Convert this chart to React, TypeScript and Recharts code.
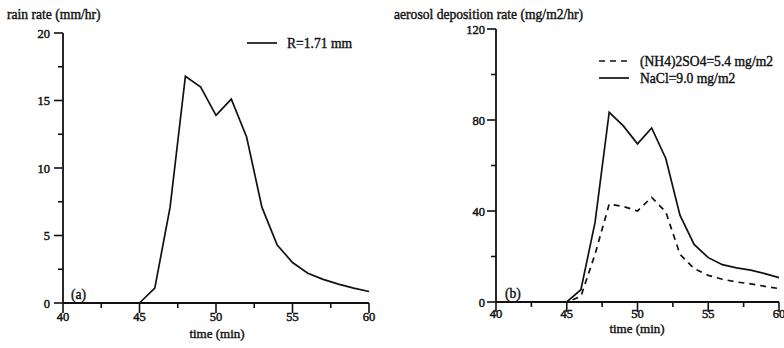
import React from 'react';
import { LineChart, Line, XAxis, YAxis } from 'recharts';

const times = [40, 41, 42, 43, 44, 45, 46, 47, 48, 49, 50, 51, 52, 53, 54, 55, 56, 57, 58, 59, 60];
const rainRate = [0, 0, 0, 0, 0, 0, 1.1, 7.1, 16.8, 16.0, 13.9, 15.1, 12.3, 7.1, 4.3, 3.0, 2.2, 1.75, 1.4, 1.1, 0.85];
const naclRate = [0, 0, 0, 0, 0, 0, 5.4, 35, 83.4, 77.4, 69.5, 76.5, 63.1, 38.2, 25.3, 19.5, 16.4, 15, 14, 12.5, 10.7];
const sulfateRate = [0, 0, 0, 0, 0, 0, 2.5, 21, 43, 42, 40, 46, 39.6, 21, 14.7, 11.7, 10, 8.8, 8, 6.9, 5.9];

const xTicks = [40, 42.5, 45, 47.5, 50, 52.5, 55, 57.5, 60];
const rainTicks = [0, 2.5, 5, 7.5, 10, 12.5, 15, 17.5, 20];
const aerosolTicks = [0, 20, 40, 60, 80, 100, 120];

const rainLabel = 'R=1.71 mm';
const sulfateLabel = '(NH4)2SO4=5.4 mg/m2';
const naclLabel = 'NaCl=9.0 mg/m2';

const rainData = times.map((t, i) => ({ t, rain: rainRate[i] }));
const aerosolData = times.map((t, i) => ({ t, nacl: naclRate[i], sulfate: sulfateRate[i] }));

const FONT = "'Liberation Serif', 'Times New Roman', serif";
const INK = '#111';

const isMajor = (v: number, every: number) => Math.abs(v / every - Math.round(v / every)) < 1e-6;

const makeXTick = (every: number, labelDy: number) => (props: any) => {
  const { x, y, payload } = props;
  const v = payload.value;
  const major = isMajor(v, every);
  return (
    <g>
      <line x1={x} x2={x} y1={y} y2={y + (major ? 10 : 5)} stroke={INK} strokeWidth={1.6} />
      {major && (
        <text x={x} y={y + labelDy} textAnchor="middle" fontFamily={FONT} fontSize={12.5} fill={INK} stroke={INK} strokeWidth={0.45}>
          {v}
        </text>
      )}
    </g>
  );
};

const makeYTick = (every: number, labelDx: number) => (props: any) => {
  const { x, y, payload } = props;
  const v = payload.value;
  const major = isMajor(v, every);
  return (
    <g>
      <line x1={x} x2={x - (major ? 9 : 5)} y1={y} y2={y} stroke={INK} strokeWidth={1.6} />
      {major && (
        <text x={x - labelDx} y={y + 4.5} textAnchor="end" fontFamily={FONT} fontSize={12.5} fill={INK} stroke={INK} strokeWidth={0.45}>
          {v}
        </text>
      )}
    </g>
  );
};

const axisLine = { stroke: INK, strokeWidth: 1.8 };

export default function App() {
  return (
    <div style={{ position: 'absolute', left: 0, top: 0, width: 784, height: 348, background: '#fff', overflow: 'hidden' }}>
      <div style={{ position: 'absolute', left: 0, top: 0 }}>
        <LineChart width={392} height={348} data={rainData} margin={{ top: 33, right: 23, bottom: 15, left: 23 }}>
          <XAxis
            dataKey="t"
            type="number"
            domain={[40, 60]}
            ticks={xTicks}
            interval={0}
            height={30}
            tickSize={0}
            tickMargin={0}
            tickLine={false}
            axisLine={axisLine}
            tick={makeXTick(5, 18)}
          />
          <YAxis
            type="number"
            domain={[0, 20]}
            ticks={rainTicks}
            interval={0}
            width={40}
            tickSize={0}
            tickMargin={0}
            tickLine={false}
            axisLine={axisLine}
            tick={makeYTick(5, 13)}
          />
          <Line type="linear" dataKey="rain" stroke={INK} strokeWidth={1.7} dot={false} isAnimationActive={false} />
        </LineChart>
      </div>
      <div style={{ position: 'absolute', left: 392, top: 0 }}>
        <LineChart width={392} height={348} data={aerosolData} margin={{ top: 29, right: 5, bottom: 16, left: 64 }}>
          <XAxis
            dataKey="t"
            type="number"
            domain={[40, 60]}
            ticks={xTicks}
            interval={0}
            height={30}
            tickSize={0}
            tickMargin={0}
            tickLine={false}
            axisLine={axisLine}
            tick={makeXTick(5, 16)}
          />
          <YAxis
            type="number"
            domain={[0, 120]}
            ticks={aerosolTicks}
            interval={0}
            width={40}
            tickSize={0}
            tickMargin={0}
            tickLine={false}
            axisLine={axisLine}
            tick={makeYTick(40, 11)}
          />
          <Line type="linear" dataKey="sulfate" stroke={INK} strokeWidth={1.7} strokeDasharray="6 5" dot={false} isAnimationActive={false} />
          <Line type="linear" dataKey="nacl" stroke={INK} strokeWidth={1.7} dot={false} isAnimationActive={false} />
        </LineChart>
      </div>
      <svg width={784} height={348} style={{ position: 'absolute', left: 0, top: 0, pointerEvents: 'none' }}>
        <g fontFamily={FONT} fontSize={13.6} fill={INK} stroke={INK} strokeWidth={0.4}>
          <text x={7} y={19}>rain rate (mm/hr)</text>
          <text x={394} y={19}>aerosol deposition rate (mg/m2/hr)</text>
          <text x={217} y={338} textAnchor="middle" fontSize={13}>time (min)</text>
          <text x={637} y={333} textAnchor="middle" fontSize={13}>time (min)</text>
          <text x={71} y={299}>(a)</text>
          <text x={505} y={298}>(b)</text>
          <text x={287} y={47.5}>{rainLabel}</text>
          <text x={640} y={65.5}>{sulfateLabel}</text>
          <text x={640} y={82.5}>{naclLabel}</text>
        </g>
        <line x1={247} x2={277} y1={43} y2={43} stroke={INK} strokeWidth={1.7} />
        <line x1={599} x2={629} y1={61} y2={61} stroke={INK} strokeWidth={1.7} strokeDasharray="6 5" />
        <line x1={599} x2={629} y1={78} y2={78} stroke={INK} strokeWidth={1.7} />
      </svg>
    </div>
  );
}
